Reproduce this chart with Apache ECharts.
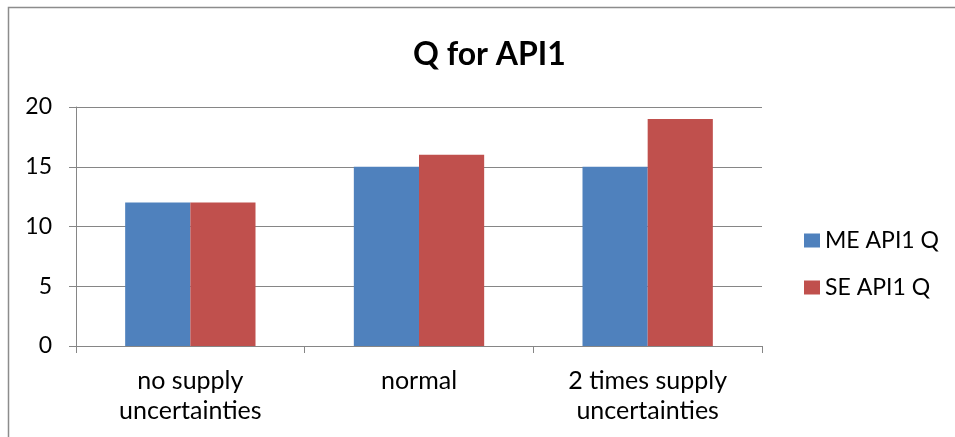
<!DOCTYPE html>
<html>
<head>
<meta charset="utf-8">
<script src="https://cdn.jsdelivr.net/npm/echarts@6/dist/echarts.min.js"></script>
<style>
  html, body { margin: 0; padding: 0; background: #fff; }
  #chart { width: 955px; height: 437px; }
</style>
</head>
<body>
<div id="chart"></div>
<script>
// Categories and series values
const categories = ['no supply\nuncertainties', 'normal', '2 times supply\nuncertainties'];
const meValues = [12, 15, 15];
const seValues = [12, 16, 19];
const seriesNames = ['ME API1 Q', 'SE API1 Q'];
const yTicks = { min: 0, max: 20, interval: 5 };

const font = 'Lato, "Open Sans", sans-serif';
const chart = echarts.init(document.getElementById('chart'), null, { renderer: 'canvas' });

chart.setOption({
  animation: false,
  backgroundColor: '#fff',
  textStyle: { fontFamily: font },
  title: {
    text: 'Q for API1',
    left: 408,
    top: 34,
    textStyle: { fontFamily: font, fontSize: 32, fontWeight: 'bold', color: '#000' }
  },
  graphic: [{
    type: 'rect',
    shape: { x: 8.5, y: 7.5, width: 1000, height: 1000 },
    style: { fill: 'none', stroke: '#8c8c8c', lineWidth: 1.5 },
    silent: true
  }],
  legend: {
    orient: 'vertical',
    left: 799,
    top: 224,
    itemWidth: 16,
    itemHeight: 14,
    itemGap: 24,
    icon: 'rect',
    textStyle: { fontFamily: font, fontSize: 23, color: '#000' },
    data: seriesNames
  },
  grid: { left: 76, right: 193, top: 107, bottom: 91 },
  xAxis: {
    type: 'category',
    data: categories,
    axisLine: { lineStyle: { color: '#868686', width: 1 } },
    axisTick: { show: true, length: 7, lineStyle: { color: '#868686' } },
    axisLabel: { fontFamily: font, fontSize: 25, color: '#000', margin: 20, lineHeight: 30, interval: 0 }
  },
  yAxis: {
    type: 'value',
    min: yTicks.min,
    max: yTicks.max,
    interval: yTicks.interval,
    axisLine: { show: true, lineStyle: { color: '#868686', width: 1 } },
    axisTick: { show: true, length: 7, lineStyle: { color: '#868686' } },
    splitLine: { lineStyle: { color: '#868686', width: 1 } },
    axisLabel: { fontFamily: font, fontSize: 23, color: '#000', margin: 24 }
  },
  series: [
    {
      name: seriesNames[0],
      type: 'bar',
      data: meValues,
      barGap: '0%',
      barCategoryGap: '43%',
      itemStyle: { color: '#4F81BD' }
    },
    {
      name: seriesNames[1],
      type: 'bar',
      data: seValues,
      barGap: '0%',
      barCategoryGap: '43%',
      itemStyle: { color: '#C0504D' }
    }
  ]
});
</script>
</body>
</html>
